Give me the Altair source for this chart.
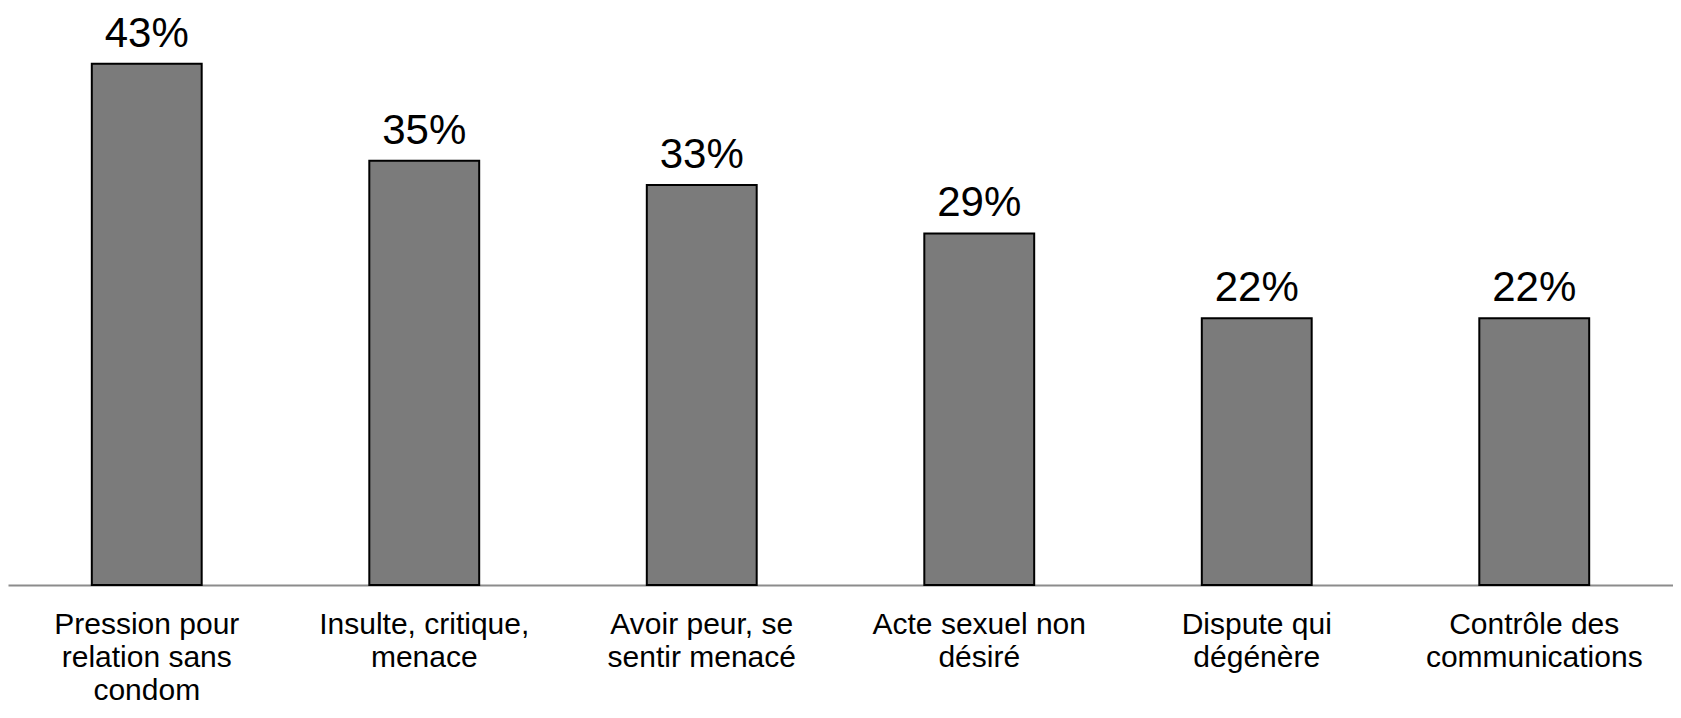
import altair as alt
import pandas as pd

categories = [
    "Pression pour|relation sans|condom",
    "Insulte, critique,|menace",
    "Avoir peur, se|sentir menacé",
    "Acte sexuel non|désiré",
    "Dispute qui|dégénère",
    "Contrôle des|communications",
]
values = [43, 35, 33, 29, 22, 22]
value_labels = ["43%", "35%", "33%", "29%", "22%", "22%"]

df = pd.DataFrame({"cat": categories, "val": values, "lab": value_labels})

FONT = "Liberation Sans"

x = alt.X(
    "cat:N",
    sort=None,
    title=None,
    scale=alt.Scale(paddingInner=0.604, paddingOuter=0.302),
    axis=alt.Axis(
        labelExpr="split(datum.value, '|')",
        labelAngle=0,
        labelFontSize=30,
        labelLineHeight=33,
        labelFont=FONT,
        labelColor="#000000",
        labelPadding=24,
        labelBaseline="top",
        labelAlign="center",
        labelLimit=0,
        labelOverlap=False,
        ticks=False,
        tickSize=0,
        domainColor="#8c8c8c",
        domainWidth=2,
        grid=False,
    ),
)
y = alt.Y("val:Q", scale=alt.Scale(domain=[0, 47.6], nice=False, zero=True), axis=None)

bars = alt.Chart(df).mark_bar(
    fill="#7b7b7b", stroke="#000000", strokeWidth=2
).encode(x=x, y=y)

texts = alt.Chart(df).mark_text(
    fontSize=42, font=FONT, color="#000000", dy=-17, baseline="alphabetic", align="center"
).encode(x=x, y=y, text="lab:N")

chart = (
    alt.layer(bars, texts)
    .properties(
        width=1665,
        height=577,
        padding={"left": 0, "right": 0, "top": 0, "bottom": 0},
    )
    .configure_view(strokeWidth=0)
)

chart.save("out.html", embed_options={"renderer": "svg", "actions": False})
